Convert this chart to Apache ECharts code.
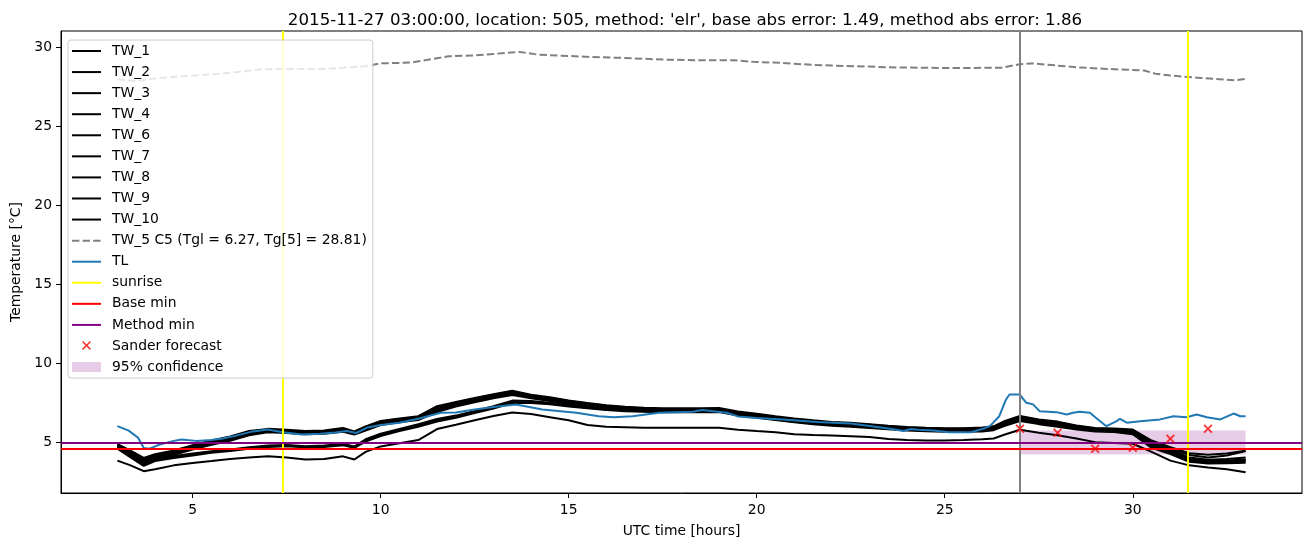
<!DOCTYPE html>
<html><head><meta charset="utf-8">
<script src="https://cdn.jsdelivr.net/npm/echarts@6/dist/echarts.min.js"></script>
<style>html,body{margin:0;padding:0;background:#fff}#c{width:1310px;height:547px}</style>
</head><body><div id="c"></div>
<script>
// ---- data ----
const hours = [3, 3.35, 3.7, 4, 4.5, 5, 5.5, 6, 6.5, 7,
  7.5, 8, 8.5, 9, 9.3, 9.6, 10, 10.5, 11, 11.5,
  12, 12.5, 13, 13.5, 14, 14.5, 15, 15.5, 16, 16.5,
  17, 17.5, 18, 18.5, 19, 19.5, 20, 20.5, 21, 21.5,
  22, 22.5, 23, 23.5, 24, 24.5, 25, 25.5, 26, 26.3,
  26.6, 27, 27.5, 28, 28.5, 29, 29.5, 30, 30.5, 31,
  31.5, 32, 32.5, 33];

const TW_1 = [3.85, 3.55, 3.18, 3.3, 3.55, 3.7, 3.82, 3.95, 4.05, 4.12,
  4.05, 3.92, 3.95, 4.12, 3.92, 4.4, 4.75, 4.95, 5.15, 5.85,
  6.12, 6.4, 6.68, 6.9, 6.8, 6.6, 6.4, 6.1, 6.0, 5.97,
  5.93, 5.93, 5.93, 5.93, 5.93, 5.8, 5.72, 5.65, 5.52, 5.47,
  5.44, 5.4, 5.35, 5.22, 5.15, 5.13, 5.13, 5.15, 5.2, 5.25,
  5.5, 5.8, 5.62, 5.45, 5.25, 5.02, 4.97, 4.92, 4.4, 3.85,
  3.55, 3.42, 3.3, 3.12];
const TW_2 = [4.88, 4.45, 3.98, 4.22, 4.45, 4.78, 5.08, 5.32, 5.68, 5.82,
  5.76, 5.68, 5.72, 5.88, 5.66, 5.98, 6.32, 6.48, 6.62, 7.22,
  7.52, 7.78, 8.02, 8.24, 7.98, 7.82, 7.62, 7.46, 7.32, 7.22,
  7.16, 7.12, 7.12, 7.12, 7.14, 6.92, 6.78, 6.62, 6.48, 6.36,
  6.26, 6.2, 6.12, 6.02, 5.94, 5.9, 5.86, 5.86, 5.9, 5.98,
  6.32, 6.64, 6.42, 6.28, 6.04, 5.88, 5.84, 5.78, 5.05, 4.62,
  4.2, 4.05, 4.18, 4.45];
const TW_3 = [4.82, 4.38, 3.9, 4.15, 4.38, 4.7, 5.0, 5.25, 5.6, 5.76,
  5.7, 5.62, 5.66, 5.8, 5.6, 5.9, 6.25, 6.4, 6.55, 7.12,
  7.45, 7.7, 7.95, 8.15, 7.92, 7.75, 7.56, 7.4, 7.26, 7.16,
  7.1, 7.07, 7.06, 7.06, 7.08, 6.86, 6.72, 6.56, 6.42, 6.3,
  6.2, 6.14, 6.06, 5.97, 5.9, 5.85, 5.82, 5.82, 5.85, 5.93,
  6.25, 6.56, 6.36, 6.2, 5.98, 5.83, 5.79, 5.72, 4.95, 4.52,
  4.05, 3.9, 3.95, 4.05];
const TW_4 = [4.76, 4.3, 3.82, 4.08, 4.3, 4.62, 4.92, 5.18, 5.52, 5.7,
  5.65, 5.58, 5.6, 5.74, 5.55, 5.82, 6.18, 6.34, 6.48, 7.02,
  7.36, 7.62, 7.88, 8.08, 7.86, 7.68, 7.5, 7.35, 7.2, 7.1,
  7.04, 7.01, 7.0, 7.0, 7.02, 6.8, 6.66, 6.5, 6.36, 6.25,
  6.15, 6.09, 6.01, 5.92, 5.85, 5.8, 5.77, 5.77, 5.8, 5.88,
  6.18, 6.5, 6.3, 6.15, 5.93, 5.78, 5.74, 5.66, 4.86, 4.45,
  3.95, 3.82, 3.85, 3.92];
const TW_6 = [4.7, 4.22, 3.75, 4.0, 4.22, 4.55, 4.85, 5.1, 5.45, 5.64,
  5.6, 5.52, 5.55, 5.68, 5.5, 5.76, 6.1, 6.28, 6.42, 6.92,
  7.28, 7.55, 7.8, 8.0, 7.8, 7.62, 7.45, 7.3, 7.15, 7.05,
  6.99, 6.96, 6.95, 6.95, 6.97, 6.75, 6.61, 6.45, 6.31, 6.2,
  6.1, 6.04, 5.96, 5.87, 5.8, 5.75, 5.72, 5.72, 5.75, 5.83,
  6.12, 6.45, 6.25, 6.1, 5.88, 5.74, 5.7, 5.6, 4.78, 4.38,
  3.88, 3.75, 3.78, 3.85];
const TW_7 = [4.9, 4.48, 4.02, 4.25, 4.5, 4.82, 5.12, 5.38, 5.72, 5.86,
  5.8, 5.72, 5.76, 5.92, 5.7, 6.02, 6.36, 6.52, 6.66, 7.3,
  7.56, 7.82, 8.06, 8.28, 8.02, 7.86, 7.66, 7.5, 7.36, 7.26,
  7.2, 7.16, 7.16, 7.16, 7.18, 6.96, 6.82, 6.66, 6.52, 6.4,
  6.3, 6.24, 6.16, 6.06, 5.98, 5.93, 5.9, 5.9, 5.94, 6.02,
  6.36, 6.68, 6.46, 6.32, 6.08, 5.92, 5.88, 5.82, 5.12, 4.7,
  4.32, 4.22, 4.3, 4.48];
const TW_8 = [4.72, 4.2, 3.68, 3.95, 4.15, 4.3, 4.45, 4.55, 4.7, 4.8,
  4.84, 4.76, 4.8, 4.9, 4.74, 5.2, 5.55, 5.86, 6.15, 6.48,
  6.7, 7.0, 7.3, 7.65, 7.62, 7.52, 7.38, 7.24, 7.12, 7.06,
  7.02, 7.0, 7.0, 7.0, 7.0, 6.78, 6.64, 6.5, 6.36, 6.24,
  6.14, 6.08, 6.0, 5.9, 5.83, 5.78, 5.75, 5.75, 5.78, 5.86,
  6.15, 6.48, 6.28, 6.12, 5.92, 5.78, 5.74, 5.64, 4.82, 4.42,
  3.92, 3.8, 3.82, 3.9];
const TW_9 = [4.66, 4.12, 3.6, 3.88, 4.08, 4.24, 4.4, 4.5, 4.64, 4.76,
  4.8, 4.72, 4.76, 4.86, 4.7, 5.12, 5.46, 5.78, 6.06, 6.4,
  6.62, 6.92, 7.22, 7.56, 7.55, 7.46, 7.32, 7.2, 7.08, 7.02,
  6.98, 6.96, 6.96, 6.96, 6.96, 6.74, 6.6, 6.46, 6.32, 6.2,
  6.1, 6.04, 5.96, 5.86, 5.8, 5.75, 5.72, 5.72, 5.74, 5.82,
  6.1, 6.42, 6.22, 6.06, 5.86, 5.74, 5.7, 5.58, 4.74, 4.34,
  3.85, 3.72, 3.72, 3.78];
const TW_10 = [4.6, 4.05, 3.52, 3.82, 4.02, 4.18, 4.35, 4.46, 4.6, 4.72,
  4.76, 4.7, 4.72, 4.82, 4.66, 5.05, 5.4, 5.72, 6.0, 6.32,
  6.56, 6.86, 7.15, 7.5, 7.5, 7.42, 7.28, 7.16, 7.05, 6.98,
  6.94, 6.92, 6.92, 6.92, 6.92, 6.7, 6.56, 6.42, 6.28, 6.16,
  6.06, 6.0, 5.92, 5.83, 5.76, 5.71, 5.68, 5.68, 5.7, 5.78,
  6.05, 6.36, 6.16, 6.0, 5.82, 5.7, 5.66, 5.52, 4.66, 4.26,
  3.78, 3.66, 3.68, 3.72];

const TL_points = [[3, 6.03], [3.3, 5.75], [3.55, 5.3], [3.7, 4.65], [3.85, 4.6], [4.1, 4.85],
  [4.5, 5.1], [4.7, 5.19], [5.1, 5.1], [5.5, 5.15], [5.8, 5.25], [6.1, 5.4], [6.6, 5.7],
  [7.0, 5.82], [7.4, 5.65], [7.9, 5.5], [8.4, 5.55], [8.8, 5.63], [9.1, 5.72], [9.35, 5.6],
  [9.65, 5.95], [10.0, 6.1], [10.5, 6.25], [11.0, 6.5], [11.6, 6.88], [12.0, 6.9], [12.5, 7.09],
  [13.0, 7.25], [13.6, 7.4], [14.3, 7.09], [15.2, 6.88], [15.8, 6.66], [16.2, 6.6], [16.7, 6.66],
  [17.4, 6.88], [18.3, 6.94], [18.55, 7.05], [19.2, 6.88], [19.5, 6.65], [20.0, 6.55], [20.7, 6.46],
  [21.6, 6.29], [22.5, 6.2], [23.35, 5.93], [23.6, 5.85], [23.9, 5.72], [24.1, 5.85], [24.3, 5.8],
  [24.7, 5.75], [25.1, 5.65], [25.7, 5.65], [26.0, 5.85], [26.2, 6.03], [26.45, 6.66], [26.63, 7.72],
  [26.72, 8.04], [26.99, 8.04], [27.17, 7.51], [27.35, 7.41], [27.52, 6.98], [27.97, 6.92],
  [28.24, 6.77], [28.41, 6.88], [28.59, 6.94], [28.86, 6.88], [29.05, 6.5], [29.3, 6.03],
  [29.57, 6.35], [29.66, 6.5], [29.84, 6.25], [30.2, 6.35], [30.73, 6.46], [31.08, 6.66],
  [31.43, 6.6], [31.7, 6.77], [31.97, 6.6], [32.33, 6.46], [32.68, 6.83], [32.86, 6.66], [33, 6.66]];

const TW_5_points = [[3, 28.0], [3.5, 27.88], [4, 28.05], [4.7, 28.18], [5.5, 28.3], [6.2, 28.45],
  [6.8, 28.62], [7.5, 28.65], [8.5, 28.65], [9.6, 28.82], [10.0, 29.0], [10.8, 29.05], [11.3, 29.25],
  [11.8, 29.45], [12.5, 29.5], [13.0, 29.6], [13.7, 29.72], [14.2, 29.55], [14.8, 29.49], [15.6, 29.4],
  [16.4, 29.35], [17.5, 29.24], [18.5, 29.2], [19.4, 29.2], [19.9, 29.1], [20.7, 29.03], [21.5, 28.9],
  [22.0, 28.86], [23.0, 28.8], [23.5, 28.75], [25.0, 28.71], [26.5, 28.72], [27.0, 28.95], [27.3, 29.0],
  [28.0, 28.86], [28.5, 28.75], [29.3, 28.65], [30.3, 28.55], [30.6, 28.35], [31.0, 28.23],
  [31.8, 28.08], [32.3, 28.0], [32.7, 27.93], [33, 28.02]];

const sunriseHours = [7.4, 31.45];
const forecastHour = [27];
const baseMin = [4.63];
const methodMin = [5.0];
const sanderHours = [27, 28, 29, 30, 31, 32];
const sanderValues = [5.87, 5.61, 4.6, 4.66, 5.23, 5.87];
const confHours = [27, 33];
const confRange = [4.24, 5.76];
const xTicks = [5, 10, 15, 20, 25, 30];
const yTicks = [5, 10, 15, 20, 25, 30];
const twNames = ['TW_1', 'TW_2', 'TW_3', 'TW_4', 'TW_6', 'TW_7', 'TW_8', 'TW_9', 'TW_10'];
const twData = [TW_1, TW_2, TW_3, TW_4, TW_6, TW_7, TW_8, TW_9, TW_10];
const tw5Label = 'TW_5 C5 (Tgl = 6.27, Tg[5] = 28.81)';
const titleText = "2015-11-27 03:00:00, location: 505, method: 'elr', base abs error: 1.49, method abs error: 1.86";

// ---- chart ----
const FONT = 'DejaVu Sans';
const FS = 13.9;
const chart = echarts.init(document.getElementById('c'), null, {renderer: 'canvas'});
const X_PATH = 'path://M0,1.4 L1.4,0 L10,8.6 L8.6,10 Z M8.6,0 L10,1.4 L1.4,10 L0,8.6 Z';
const X_LEGEND = 'path://M0,0 L0,0 M29,14 L29,14 M10,3 L11.1,1.9 L19,9.8 L17.9,10.9 Z M17.9,1.9 L19,3 L11.1,10.9 L10,9.8 Z';
const RECT_LEGEND = 'path://M0,0 L0,0 M29,14 L29,14 M0,2 L29,2 L29,12 L0,12 Z';
const LINE_LEGEND = 'path://M0,0 L0,0 M29,14 L29,14 M0,6 L29,6 L29,8 L0,8 Z';
const DASH_LEGEND = 'path://M0,0 L0,0 M29,14 L29,14 M0,6 L7.4,6 L7.4,8 L0,8 Z M10.6,6 L18,6 L18,8 L10.6,8 Z M21.2,6 L28.6,6 L28.6,8 L21.2,8 Z';

const series = [];
twNames.forEach((n, k) => {
  series.push({
    name: n, type: 'line', symbol: 'none', z: 2,
    color: '#000',
    lineStyle: {color: '#000', width: 2},
    data: hours.map((h, i) => [h, twData[k][i]])
  });
});
series.push({
  name: tw5Label, type: 'line', symbol: 'none', z: 3, color: '#808080',
  lineStyle: {color: '#808080', width: 2, type: [7.4, 3.2]},
  data: TW_5_points
});
series.push({
  name: 'TL', type: 'line', symbol: 'none', z: 4, color: '#1f77b4',
  lineStyle: {color: '#1f77b4', width: 2},
  data: TL_points,
  markLine: {
    silent: true, symbol: ['none', 'none'], label: {show: false}, animation: false,
    lineStyle: {color: '#808080', width: 2, type: 'solid'},
    data: forecastHour.map(h => ({xAxis: h}))
  }
});
series.push({
  name: 'sunrise', type: 'line', symbol: 'none', z: 5, color: '#ffff00',
  lineStyle: {color: '#ffff00', width: 2}, data: [],
  markLine: {
    silent: true, symbol: ['none', 'none'], label: {show: false}, animation: false,
    lineStyle: {color: '#ffff00', width: 2, type: 'solid'},
    data: sunriseHours.map(h => ({xAxis: h}))
  }
});
series.push({
  name: 'Base min', type: 'line', symbol: 'none', z: 5, color: '#ff0000',
  lineStyle: {color: '#ff0000', width: 2}, data: [],
  markLine: {
    silent: true, symbol: ['none', 'none'], label: {show: false}, animation: false,
    lineStyle: {color: '#ff0000', width: 2, type: 'solid'},
    data: baseMin.map(v => ({yAxis: v}))
  }
});
series.push({
  name: 'Method min', type: 'line', symbol: 'none', z: 5, color: '#800080',
  lineStyle: {color: '#800080', width: 2}, data: [],
  markLine: {
    silent: true, symbol: ['none', 'none'], label: {show: false}, animation: false,
    lineStyle: {color: '#800080', width: 2, type: 'solid'},
    data: methodMin.map(v => ({yAxis: v}))
  }
});
series.push({
  name: 'Sander forecast', type: 'scatter', z: 6, color: '#ff0000',
  symbol: X_PATH, symbolSize: 9, symbolKeepAspect: true,
  itemStyle: {color: '#ff0000'},
  data: sanderHours.map((h, i) => [h, sanderValues[i]])
});
series.push({
  name: '95% confidence', type: 'line', symbol: 'none', z: 6, color: 'rgba(128,0,128,0.2)',
  lineStyle: {color: 'rgba(128,0,128,0.2)', width: 0}, data: [],
  markArea: {
    silent: true, animation: false,
    itemStyle: {color: 'rgba(128,0,128,0.2)'},
    data: [[{xAxis: confHours[0], yAxis: confRange[0]}, {xAxis: confHours[1], yAxis: confRange[1]}]]
  }
});

const legendData = twNames.map(n => ({name: n, icon: LINE_LEGEND}))
  .concat([{name: tw5Label, icon: DASH_LEGEND}, {name: 'TL', icon: LINE_LEGEND},
    {name: 'sunrise', icon: LINE_LEGEND}, {name: 'Base min', icon: LINE_LEGEND},
    {name: 'Method min', icon: LINE_LEGEND},
    {name: 'Sander forecast', icon: X_LEGEND}, {name: '95% confidence', icon: RECT_LEGEND}]);

chart.setOption({
  animation: false,
  backgroundColor: '#fff',
  textStyle: {fontFamily: FONT},
  title: {
    text: titleText, left: 680, top: 7, textAlign: 'center',
    textStyle: {fontFamily: FONT, fontSize: 16.67, fontWeight: 'normal', color: '#000'}
  },
  grid: {left: 61, right: 8, top: 31, bottom: 54, show: true, borderColor: '#000', borderWidth: 1, backgroundColor: 'transparent'},
  legend: {
    orient: 'vertical', left: 68, top: 40, z: 10,
    data: legendData,
    itemWidth: 29, itemHeight: 14, itemGap: 7.07,
    padding: [4, 6, 4, 4],
    itemStyle: {borderWidth: 0},
    backgroundColor: 'rgba(255,255,255,0.8)', borderColor: '#cccccc', borderWidth: 1, borderRadius: 3,
    textStyle: {fontFamily: FONT, fontSize: FS, color: '#000', lineHeight: 14, padding: [0, 0, 0, 6]},
    selectedMode: false
  },
  xAxis: {
    type: 'value', min: 1.5, max: 34.5,
    name: 'UTC time [hours]', nameLocation: 'middle', nameGap: 31,
    nameTextStyle: {fontFamily: FONT, fontSize: FS, color: '#000'},
    axisLine: {show: true, onZero: false, lineStyle: {color: '#000', width: 1}},
    axisTick: {show: true, length: 5, customValues: xTicks, lineStyle: {color: '#000', width: 1}},
    axisLabel: {customValues: xTicks, margin: 10, fontFamily: FONT, fontSize: FS, color: '#000'},
    splitLine: {show: false}
  },
  yAxis: {
    type: 'value', min: 1.8, max: 31.05,
    name: 'Temperature [°C]', nameLocation: 'middle', nameGap: 34,
    nameTextStyle: {fontFamily: FONT, fontSize: FS, color: '#000'},
    axisLine: {show: true, onZero: false, lineStyle: {color: '#000', width: 1}},
    axisTick: {show: true, length: 5, customValues: yTicks, lineStyle: {color: '#000', width: 1}},
    axisLabel: {customValues: yTicks, margin: 9, fontFamily: FONT, fontSize: FS, color: '#000'},
    splitLine: {show: false}
  },
  series: series
});
</script>
</body></html>
